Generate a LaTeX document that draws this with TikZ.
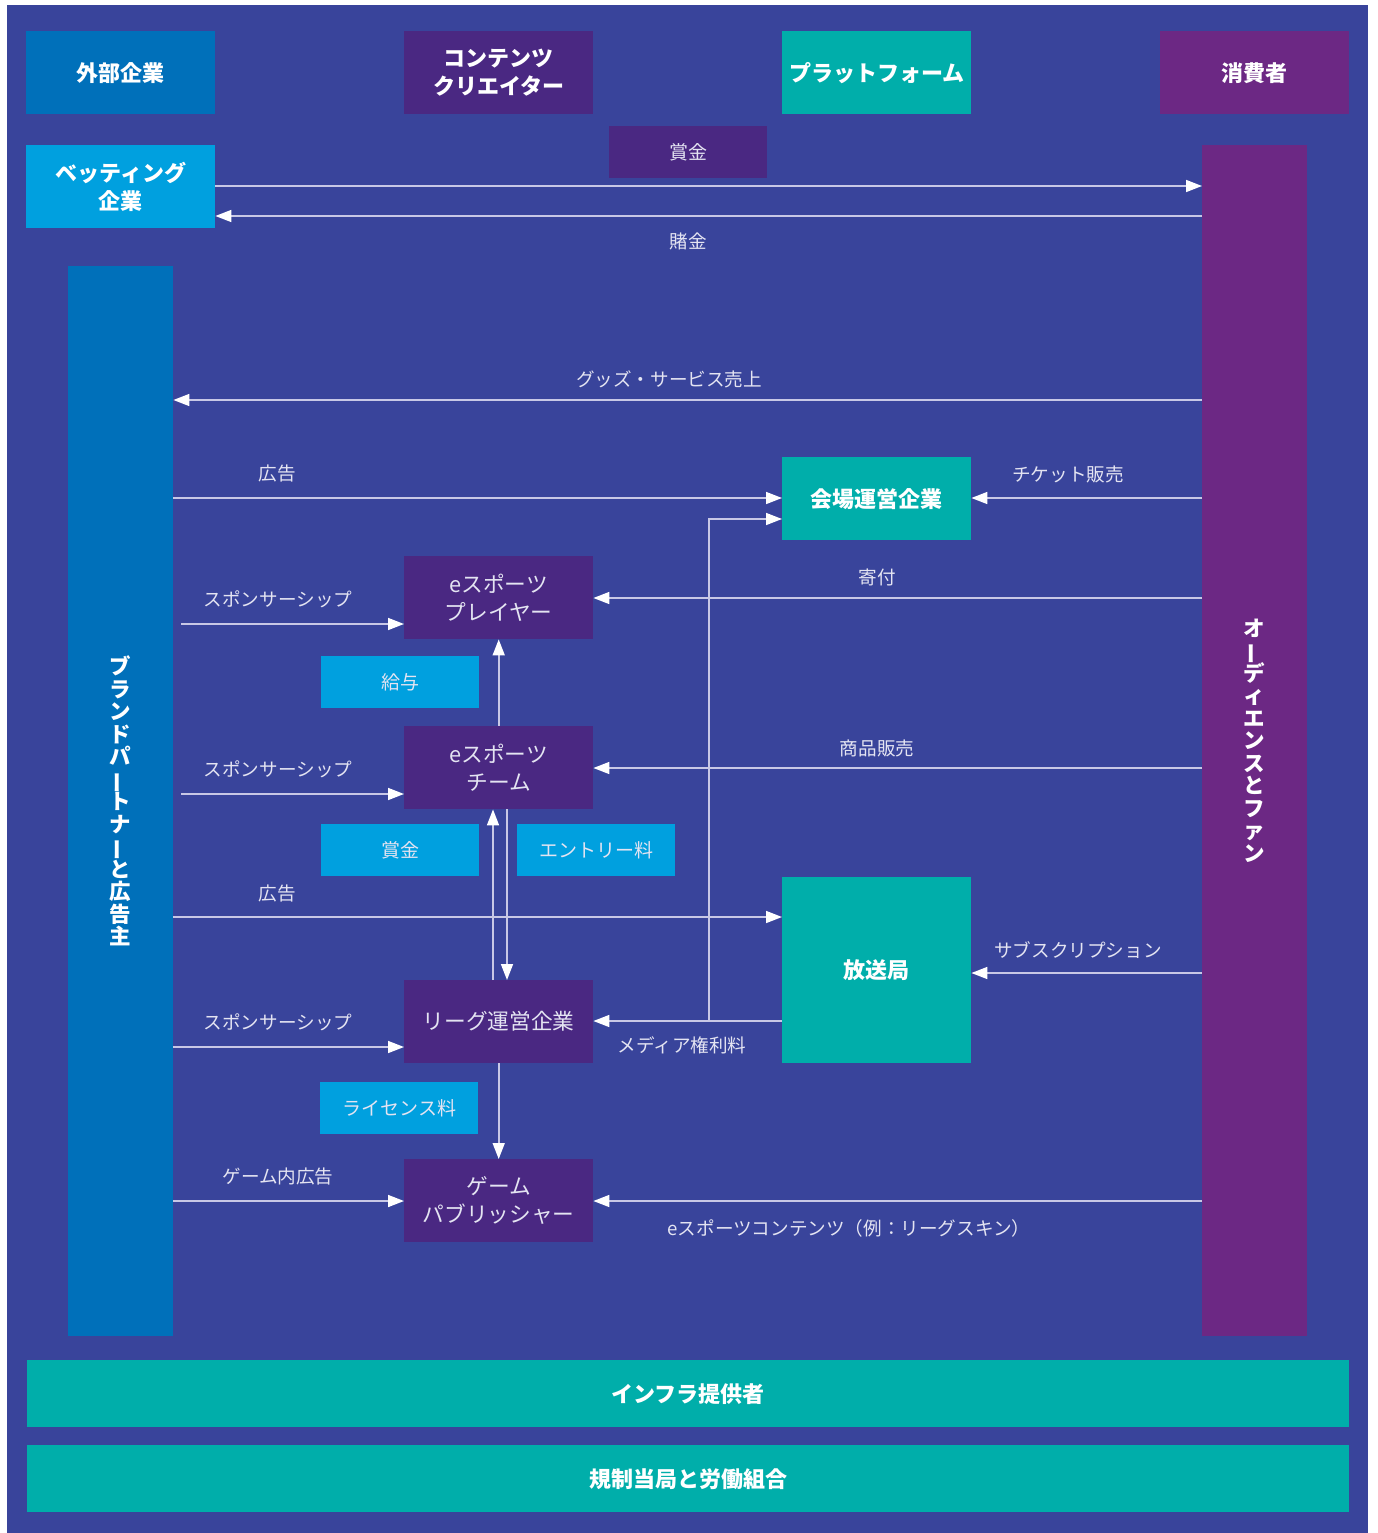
\documentclass[tikz,border=0pt]{standalone}
\usepackage{fontspec}
\setmainfont{Noto Sans CJK JP}
\usetikzlibrary{arrows.meta}
\definecolor{bgblue}{RGB}{57,68,155}
\definecolor{extblue}{RGB}{0,112,186}
\definecolor{betblue}{RGB}{0,160,223}
\definecolor{cpurple}{RGB}{74,40,130}
\definecolor{teal}{RGB}{0,174,170}
\definecolor{apurple}{RGB}{108,40,132}
\definecolor{lline}{RGB}{200,200,230}
\definecolor{ltext}{RGB}{228,228,242}
\newcommand\vchoon{\makebox[1em]{\smash{\rotatebox[origin=c]{90}{ー}}}}
\tikzset{
  hdr/.style={anchor=north west, minimum width=189pt, minimum height=83pt, inner sep=0pt,
    text=white, align=center, font=\bfseries\fontsize{22}{28}\selectfont},
  ent/.style={anchor=north west, minimum width=189pt, minimum height=83pt, inner sep=0pt,
    text=ltext, align=center, font=\fontsize{21.7}{28}\selectfont, fill=cpurple},
  tagbox/.style={anchor=north west, minimum width=158pt, minimum height=52pt, inner sep=0pt,
    text=ltext, font=\fontsize{19}{22}\selectfont, fill=betblue},
  bar/.style={anchor=north west, minimum width=105pt, inner sep=0pt, text=white,
    align=center, font=\bfseries\fontsize{21.5}{22.5}\selectfont},
  wide/.style={anchor=north west, minimum width=1322pt, minimum height=67pt, inner sep=0pt,
    text=white, fill=teal, font=\bfseries\fontsize{22}{26}\selectfont},
  lbl/.style={text=ltext, font=\fontsize{18.6}{22}\selectfont, inner sep=0pt},
  arr/.style={draw=lline, line width=1.6pt, -{Triangle[length=16pt,width=12pt,color=white]}},
}
\begin{document}
\begin{tikzpicture}[x=1pt,y=-1pt]
\useasboundingbox (0,0) rectangle (1377,1533);
\fill[white] (0,0) rectangle (1377,1533);
\fill[bgblue] (7,5) rectangle (1368,1533);

% header row
\node[hdr, fill=extblue] (ext) at (26,31) {外部企業};
\node[hdr, fill=cpurple] (cc) at (404,31) {コンテンツ\\クリエイター};
\node[hdr, fill=teal] (plat) at (782,31) {プラットフォーム};
\node[hdr, fill=apurple] (cons) at (1160,31) {消費者};

\node[tagbox, fill=cpurple] (prize1) at (609,126) {賞金};
\node[hdr, fill=betblue] (bet) at (26,145) {ベッティング\\企業};

% bars
\node[bar, fill=apurple, minimum height=1191pt] (aud) at (1202,145)
  {オ\\\vchoon\\デ\\ィ\\エ\\ン\\ス\\と\\フ\\ァ\\ン};
\node[bar, fill=extblue, minimum height=1070pt] (brand) at (68,266)
  {ブ\\ラ\\ン\\ド\\パ\\\vchoon\\ト\\ナ\\\vchoon\\と\\広\\告\\主};

% entities
\node[hdr, fill=teal] (venue) at (782,457) {会場運営企業};
\node[ent] (player) at (404,556) {eスポーツ\\プレイヤー};
\node[tagbox] (salary) at (321,656) {給与};
\node[ent] (team) at (404,726) {eスポーツ\\チーム};
\node[tagbox] (prize2) at (321,824) {賞金};
\node[tagbox] (entry) at (517,824) {エントリー料};
\node[hdr, fill=teal, minimum height=186pt] (bc) at (782,877) {放送局};
\node[ent] (league) at (404,980) {リーグ運営企業};
\node[tagbox] (lic) at (320,1082) {ライセンス料};
\node[ent] (pub) at (404,1159) {ゲーム\\パブリッシャー};

\node[wide] (infra) at (27,1360) {インフラ提供者};
\node[wide] (reg) at (27,1445) {規制当局と労働組合};

% connectors
\draw[arr] (bet.east |- 0,186) -- (aud.west |- 0,186);
\draw[arr] (aud.west |- 0,216) -- (bet.east |- 0,216);
\draw[arr] (aud.west |- 0,400) -- (brand.east |- 0,400);
\draw[arr] (brand.east |- 0,498) -- (venue.west |- 0,498);
\draw[arr] (aud.west |- 0,498) -- (venue.east |- 0,498);
\draw[arr] (aud.west |- 0,598) -- (player.east |- 0,598);
\draw[arr] ([xshift=8pt]brand.east |- 0,624) -- (player.west |- 0,624);
\draw[arr] (team.north) -- (player.south);
\draw[arr] (aud.west |- 0,768) -- (team.east |- 0,768);
\draw[arr] ([xshift=8pt]brand.east |- 0,794) -- (team.west |- 0,794);
\draw[arr] (league.north -| 493,0) -- (team.south -| 493,0);
\draw[arr] (team.south -| 507,0) -- (league.north -| 507,0);
\draw[arr] (brand.east |- 0,917) -- (bc.west |- 0,917);
\draw[arr] (aud.west |- 0,973) -- (bc.east |- 0,973);
\draw[arr] (bc.west |- 0,1021) -- (league.east |- 0,1021);
\coordinate (mj) at (709,1021);
\draw[arr] (mj) |- (venue.west |- 0,519);
\draw[arr] (brand.east |- 0,1047) -- (league.west |- 0,1047);
\draw[arr] (league.south) -- (pub.north);
\draw[arr] (brand.east |- 0,1201) -- (pub.west |- 0,1201);
\draw[arr] (aud.west |- 0,1201) -- (pub.east |- 0,1201);

% labels
\node[lbl] (l1) at (688,241) {賭金};
\node[lbl] (l2) at (669,379) {グッズ・サービス売上};
\node[lbl] (l3) at (277,474) {広告};
\node[lbl] (l4) at (1068,474) {チケット販売};
\node[lbl] (l5) at (877,577) {寄付};
\node[lbl] (l6) at (278,599) {スポンサーシップ};
\node[lbl] (l7) at (877,748) {商品販売};
\node[lbl] (l8) at (278,769) {スポンサーシップ};
\node[lbl] (l9) at (277,894) {広告};
\node[lbl] (l10) at (1078,950) {サブスクリプション};
\node[lbl] (l11) at (278,1022) {スポンサーシップ};
\node[lbl] (l12) at (682,1045) {メディア権利料};
\node[lbl] (l13) at (278,1177) {ゲーム内広告};
\node[lbl] (l14) at (849,1228) {eスポーツコンテンツ（例：リーグスキン）};
\end{tikzpicture}
\end{document}
